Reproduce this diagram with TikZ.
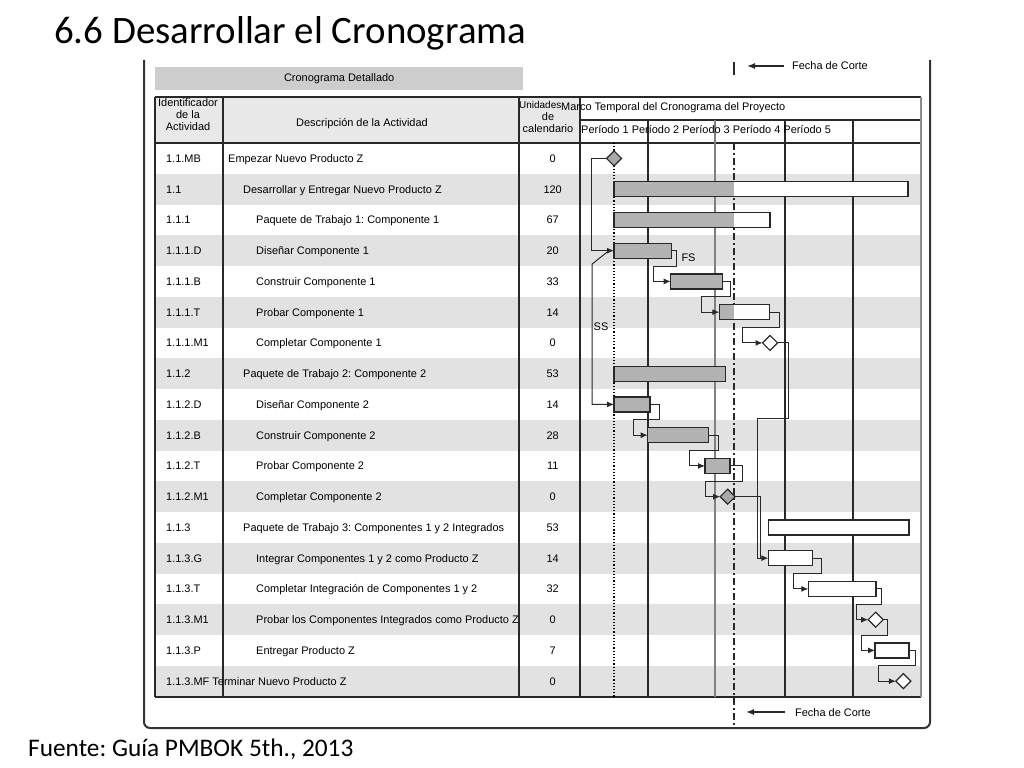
\documentclass[tikz,border=0pt]{standalone}
\usepackage{fontspec}
\setmainfont{Liberation Sans}
\newfontfamily\calibri{Carlito}
\usetikzlibrary{arrows.meta,shapes.geometric,calc}
\definecolor{barg}{RGB}{178,178,178}
\definecolor{rowsh}{RGB}{226,226,226}
\definecolor{hdrsh}{RGB}{232,232,232}
\definecolor{ttlbar}{RGB}{205,205,205}
\definecolor{diag}{RGB}{168,168,168}
\definecolor{ln}{RGB}{40,40,40}
\frenchspacing
\begin{document}
\frenchspacing
\begin{tikzpicture}[x=1bp,y=-1bp,
  tx/.style={font=\fontsize{11}{12}\selectfont, inner sep=0, text height=8bp, text depth=0bp},
  hd/.style={font=\fontsize{11}{12}\selectfont, inner sep=0, align=center},
  bar/.style={draw=ln, line width=1.3bp, minimum height=15bp, inner sep=0, outer sep=0, anchor=west},
  gbar/.style={bar, fill=barg},
  wbar/.style={bar, fill=white},
  pbar/.style={bar, fill=white, path picture={\fill[barg] (path picture bounding box.north west) rectangle (cut |- path picture bounding box.south);}},
  ms/.style={diamond, draw=ln, line width=1.2bp, minimum width=15bp, minimum height=15bp, inner sep=0, outer sep=0},
  gms/.style={ms, fill=diag},
  wms/.style={ms, fill=white},
  link/.style={draw=ln, line width=1bp, -{Latex[length=7bp,width=6bp]}},
  plainlink/.style={draw=ln, line width=1bp},
  tline/.style={draw=ln, line width=1.3bp},
  cutarrow/.style={draw=ln, line width=1.3bp, -{Latex[length=8bp,width=6bp]}},
]
\useasboundingbox (0,0) rectangle (1024,768);
\coordinate (cut) at (734,0);

% title and source
\node[anchor=base west, inner sep=0, font=\calibri\fontsize{39}{42}\selectfont] (title) at (54,43.5) {6.6 Desarrollar el Cronograma};
\node[anchor=base west, inner sep=0, font=\calibri\fontsize{25.4}{27}\selectfont] (src) at (28,756.5) {Fuente: Guía PMBOK 5th., 2013};

% outer frame
\draw[line width=2bp, draw=black!80, rounded corners=6bp] (144,60) -- (144,728) -- (930,728) -- (930,60);

% title bar
\node[fill=ttlbar, minimum width=368bp, minimum height=23bp, inner sep=0, anchor=north west, font=\fontsize{11}{12}\selectfont] (ttl) at (155,66.5) {Cronograma Detallado};

% header and row shading
\fill[hdrsh] (155,97) rectangle (580,143);
\foreach \i in {1,3,...,17}
  \fill[rowsh] (155,{143+30.75*\i}) rectangle (921,{143+30.75*(\i+1)});

% grid
\draw[tline] (155,97) -- (921,97);
\draw[tline] (580,120) -- (921,120);
\draw[tline, line width=1.6bp] (155,143) -- (921,143);
\draw[tline] (155,697) -- (921,697);
\foreach \x in {155,223,519,580} \draw[tline] (\x,97) -- (\x,697);
\draw[draw=black!45, line width=2bp] (921,97) -- (921,697);
\foreach \x in {648,785,853} \draw[tline, line width=1.1bp] (\x,120) -- (\x,697);
\draw[draw=black!50, line width=2bp] (715,120) -- (715,697);
\draw[dotted, line width=1.2bp] (614,143) -- (614,697);
\draw[draw=ln, line width=1.4bp, dash pattern=on 7bp off 3bp on 2bp off 3bp] (734,143) -- (734,726);
\draw[draw=ln, line width=1.4bp] (734,62) -- (734,75);

% header text
\node[hd] (hid) at (188,115) {Identificador\\de la\\Actividad};
\node[tx] (hdesc) at (362,122) {Descripción de la Actividad};
\node[tx, anchor=west, font=\fontsize{10}{12}\selectfont] (hu1) at (519,104.5) {Unidades};
\node[tx] (hu2) at (548,116.5) {de};
\node[tx] (hu3) at (548,128.5) {calendario};
\node[tx, anchor=west] (hmarco) at (561,106) {Marco Temporal del Cronograma del Proyecto};
\node[tx, anchor=west] (hper) at (581,129.5) {Período 1 Período 2 Período 3 Período 4 Período 5};

% rows
\foreach \i/\id/\d/\x/\u in {
0/1.1.MB/Empezar Nuevo Producto Z/228/0,
1/1.1/Desarrollar y Entregar Nuevo Producto Z/243/120,
2/1.1.1/Paquete de Trabajo 1: Componente 1/256/67,
3/1.1.1.D/Diseñar Componente 1/256/20,
4/1.1.1.B/Construir Componente 1/256/33,
5/1.1.1.T/Probar Componente 1/256/14,
6/1.1.1.M1/Completar Componente 1/256/0,
7/1.1.2/Paquete de Trabajo 2: Componente 2/243/53,
8/1.1.2.D/Diseñar Componente 2/256/14,
9/1.1.2.B/Construir Componente 2/256/28,
10/1.1.2.T/Probar Componente 2/256/11,
11/1.1.2.M1/Completar Componente 2/256/0,
12/1.1.3/Paquete de Trabajo 3: Componentes 1 y 2 Integrados/243/53,
13/1.1.3.G/Integrar Componentes 1 y 2 como Producto Z/256/14,
14/1.1.3.T/Completar Integración de Componentes 1 y 2/256/32,
15/1.1.3.M1/Probar los Componentes Integrados como Producto Z/256/0,
16/1.1.3.P/Entregar Producto Z/256/7}{
  \pgfmathsetmacro\yy{158.4+30.75*\i}
  \node[tx, anchor=west] (id\i) at (166,\yy) {\id};
  \node[tx, anchor=west] (ds\i) at (\x,\yy) {\d};
  \node[tx] (un\i) at (552.7,\yy) {\u};
}
\node[tx, anchor=west] (id17) at (166,681.15) {1.1.3.MF Terminar Nuevo Producto Z};
\node[tx] (un17) at (552.7,681.15) {0};

% bars and milestones
\node[gms] (m0) at (614,158.4) {};
\node[pbar, minimum width=294bp] (b1) at (614,189.15) {};
\node[pbar, minimum width=156bp] (b2) at (614,219.9) {};
\node[gbar, minimum width=57.7bp] (b3) at (614,250.65) {};
\node[gbar, minimum width=52bp] (b4) at (670.7,281.4) {};
\node[pbar, minimum width=50bp] (b5) at (719.3,312.15) {};
\node[wms] (m6) at (770,342.9) {};
\node[gbar, minimum width=111.7bp] (b7) at (614,373.65) {};
\node[gbar, minimum width=36bp] (b8) at (614,404.4) {};
\node[gbar, minimum width=60.6bp] (b9) at (647.7,435.15) {};
\node[gbar, minimum width=25bp] (b10) at (705,465.9) {};
\node[gms] (m11) at (727.7,496.65) {};
\node[wbar, minimum width=140.7bp] (b12) at (768.3,527.4) {};
\node[wbar, minimum width=44.4bp] (b13) at (768.3,558.15) {};
\node[wbar, minimum width=67.7bp] (b14) at (808.3,588.9) {};
\node[wms] (m15) at (875.7,619.65) {};
\node[wbar, minimum width=34bp] (b16) at (875,650.4) {};
\node[wms] (m17) at (903.3,681.15) {};

% links
\draw[link] (m0.west) -- ++(-15.5,0) |- (b3.west);
\draw[link] ($(b3.west)+(-7,1.5)$) -- ++(-15,12) |- (b8.west);
\draw[link] (b3.east) -- ++(5,0) |- ($(b4.west)+(-17.7,-15.4)$) |- (b4.west);
\draw[link] (b4.east) -- ++(8,0) |- ($(b5.west)+(-18.3,-15.4)$) |- (b5.west);
\draw[link] (b5.east) -- ++(10,0) |- ($(m6.west)+(-20,-15.4)$) |- (m6.west);
\draw[link] (b8.east) -- ++(9,0) |- ($(b9.west)+(-14.4,-15.4)$) |- (b9.west);
\draw[link] (b9.east) -- ++(10,0) |- ($(b10.west)+(-15.7,-15.4)$) |- (b10.west);
\draw[link] (b10.east) -- ++(12.7,0) |- ($(m11.west)+(-14.3,-15.4)$) |- (m11.west);
\draw[link] (m6.east) -- ++(11,0) -- ++(0,75.5) -| ($(b13.west)+(-11,0)$) -- (b13.west);
\draw[plainlink] (m11.east) -| ($(b13.west)+(-7.5,0)$);
\draw[link] (b13.east) -- ++(8.3,0) |- ($(b14.west)+(-15,-15.4)$) |- (b14.west);
\draw[link] (b14.east) -- ++(5,0) |- ($(m15.west)+(-12,-15.4)$) |- (m15.west);
\draw[link] (m15.east) -- ++(4,0) |- ($(b16.west)+(-13.3,-15.4)$) |- (b16.west);
\draw[link] (b16.east) -- ++(6.7,0) |- ($(m17.west)+(-17,-15.4)$) |- (m17.west);

\node[tx] (fs) at (688.5,257) {FS};
\node[tx] (ss) at (601,326) {SS};

% cut date labels
\node[tx, anchor=west] (fc1) at (792,66) {Fecha de Corte};
\coordinate (fc1t) at (747,66);
\draw[cutarrow] ($(fc1.west)+(-8,0)$) -- (fc1t);
\node[tx, anchor=west] (fc2) at (795,712) {Fecha de Corte};
\coordinate (fc2t) at (746,712);
\draw[cutarrow] ($(fc2.west)+(-10,0)$) -- (fc2t);
\end{tikzpicture}
\end{document}
